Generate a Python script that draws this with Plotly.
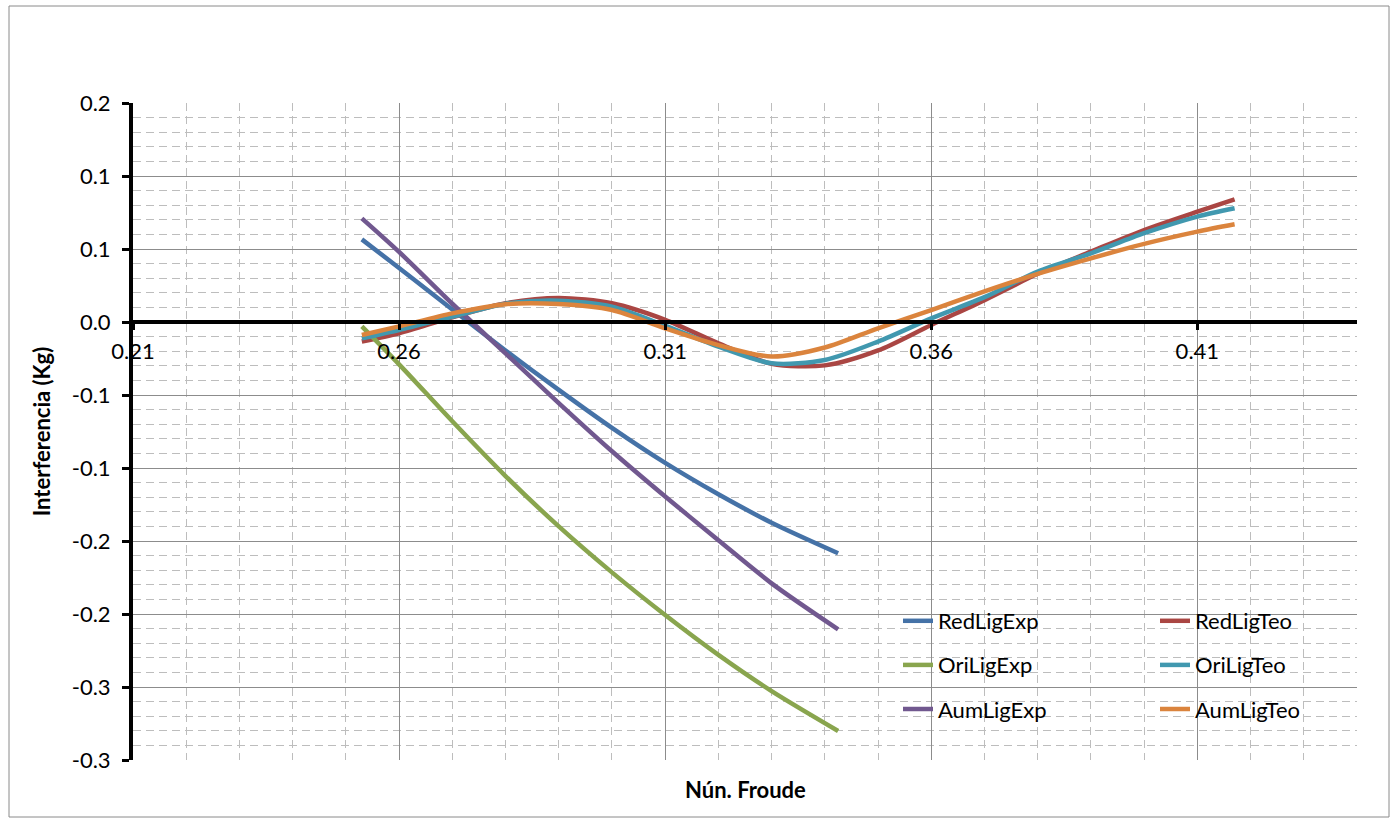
import plotly.graph_objects as go

# Froude numbers of the measured (Exp) and theoretical (Teo) runs
froude_exp = [0.253, 0.26, 0.27, 0.28, 0.29, 0.30, 0.31, 0.32, 0.33, 0.3425]
froude_teo = [0.253, 0.26, 0.27, 0.28, 0.29, 0.30, 0.31, 0.32, 0.33, 0.34,
              0.35, 0.36, 0.37, 0.38, 0.39, 0.40, 0.41, 0.417]

# Interference (Kg)
red_lig_exp = [0.0566, 0.037, 0.0085, -0.0195, -0.0465, -0.0725, -0.0965, -0.118, -0.1375, -0.1584]
ori_lig_exp = [-0.003, -0.029, -0.068, -0.1055, -0.140, -0.1715, -0.2007, -0.228, -0.2528, -0.2801]
aum_lig_exp = [0.071, 0.048, 0.0125, -0.0215, -0.0555, -0.0885, -0.1195, -0.1495, -0.179, -0.2105]

red_lig_teo = [-0.0134, -0.0077, 0.0032, 0.0128, 0.0165, 0.0128, 0.0015, -0.0146, -0.0286, -0.0297,
               -0.0195, -0.002, 0.015, 0.033, 0.0482, 0.063, 0.0756, 0.084]
ori_lig_teo = [-0.0112, -0.0055, 0.0036, 0.0125, 0.0146, 0.0105, -0.0025, -0.0169, -0.0283, -0.026,
               -0.0134, 0.0025, 0.017, 0.0345, 0.047, 0.0608, 0.0722, 0.0779]
aum_lig_teo = [-0.0089, -0.003, 0.0059, 0.0122, 0.0123, 0.0082, -0.0043, -0.0158, -0.0237, -0.0175,
               -0.0043, 0.0082, 0.021, 0.033, 0.0436, 0.0535, 0.0619, 0.0669]

# Y tick labels (values rounded to one decimal)
y_tick_vals = [0.15, 0.1, 0.05, 0.0, -0.05, -0.1, -0.15, -0.2, -0.25, -0.3]
y_tick_text = ["0.2", "0.1", "0.1", "0.0", "-0.1", "-0.1", "-0.2", "-0.2", "-0.3", "-0.3"]

FONT = "Lato, 'Open Sans', sans-serif"

series = [
    ("RedLigExp", froude_exp, red_lig_exp, "#4572A7", "legend"),
    ("RedLigTeo", froude_teo, red_lig_teo, "#AA4643", "legend2"),
    ("OriLigExp", froude_exp, ori_lig_exp, "#89A54E", "legend"),
    ("AumLigExp", froude_exp, aum_lig_exp, "#71588F", "legend"),
    ("OriLigTeo", froude_teo, ori_lig_teo, "#4198AF", "legend2"),
    ("AumLigTeo", froude_teo, aum_lig_teo, "#DB843D", "legend2"),
]

fig = go.Figure()
for name, xs, ys, color, leg in series:
    fig.add_trace(go.Scatter(
        x=xs, y=ys, name=name, mode="lines", legend=leg, legendgroup=name,
        line=dict(color=color, width=4.5, shape="spline", smoothing=0.8),
    ))

W, H = 1391, 819
L, R, T, B = 133, 34, 103, 59
pw, ph = W - L - R, H - T - B

y_min, y_max = -0.3, 0.15

legend_style = dict(
    xanchor="left", yanchor="top", y=(760 - 600) / ph,
    bgcolor="rgba(0,0,0,0)", tracegroupgap=12.5, font=dict(size=22),
)

fig.update_layout(
    width=W, height=H,
    margin=dict(l=L, r=R, t=T, b=B),
    paper_bgcolor="white", plot_bgcolor="white",
    font=dict(family=FONT, size=22, color="black"),
    showlegend=True,
    legend=dict(x=(898 - L) / pw, **legend_style),
    legend2=dict(x=(1155 - L) / pw, **legend_style),
    xaxis=dict(
        range=[0.21, 0.44], tick0=0.21, dtick=0.05,
        anchor="free", position=(0 - y_min) / (y_max - y_min),
        showline=True, linecolor="black", linewidth=4,
        ticks="outside", ticklen=6, tickwidth=3, tickcolor="black",
        ticklabelstandoff=3,
        showgrid=True, gridcolor="#8c8c8c", gridwidth=1,
        zeroline=False,
        minor=dict(dtick=0.01, tick0=0.21, showgrid=True, gridcolor="#bdbdbd",
                   gridwidth=1, griddash="8px,5px", ticks=""),
        tickfont=dict(size=22),
        title=None,
    ),
    yaxis=dict(
        range=[y_min, y_max], tickvals=y_tick_vals, ticktext=y_tick_text,
        showline=True, linecolor="black", linewidth=4,
        ticks="outside", ticklen=7, tickwidth=3, tickcolor="black",
        ticklabelstandoff=7,
        showgrid=True, gridcolor="#8c8c8c", gridwidth=1,
        zeroline=False,
        minor=dict(dtick=0.01, tick0=0.0, showgrid=True, gridcolor="#bdbdbd",
                   gridwidth=1, griddash="8px,5px", ticks=""),
        tickfont=dict(size=22),
        title=dict(text="<b>Interferencia (Kg)</b>", font=dict(size=22), standoff=16),
    ),
    annotations=[
        dict(text="<b>Nún. Froude</b>", xref="paper", yref="paper",
             x=0.5, y=-(790 - 760) / ph, xanchor="center", yanchor="middle",
             showarrow=False, font=dict(size=22)),
    ],
    shapes=[
        dict(type="rect", xref="paper", yref="paper",
             x0=(9 - L) / pw, x1=(1389 - L) / pw,
             y0=(760 - 817) / ph, y1=(760 - 6) / ph,
             line=dict(color="#8a8a8a", width=1), fillcolor="rgba(0,0,0,0)",
             layer="below"),
    ],
)

fig.write_html("out.html")
